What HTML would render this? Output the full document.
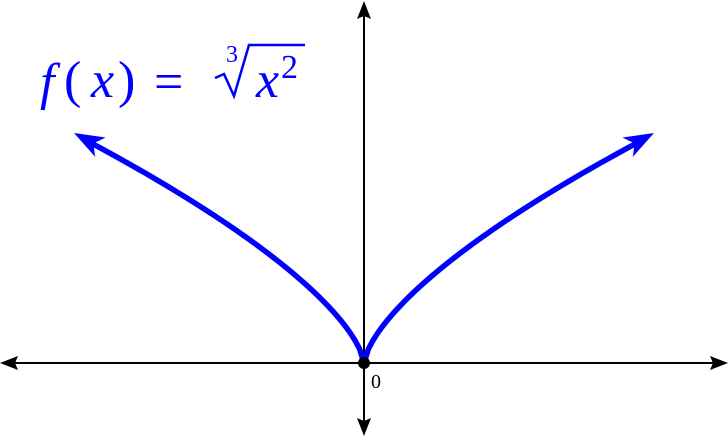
<!DOCTYPE html>
<html><head><meta charset="utf-8"><style>
html,body{margin:0;padding:0;background:#fff;}
svg{display:block;}
</style></head><body>
<svg width="728" height="437" viewBox="0 0 728 437" xmlns="http://www.w3.org/2000/svg">
<line x1="12" y1="363" x2="716" y2="363" stroke="#000" stroke-width="2"/>
<line x1="364" y1="12" x2="364" y2="425" stroke="#000" stroke-width="2"/>
<polygon points="728,363 710,356 713,363 710,370" fill="#000"/>
<polygon points="0,363 18,356 15,363 18,370" fill="#000"/>
<polygon points="364,1 357,19 364,16 371,19" fill="#000"/>
<polygon points="364,436 357,418 364,421 371,418" fill="#000"/>
<path id="c" d="" fill="none" stroke="#0000ff" stroke-width="5.5" stroke-linejoin="round"/>
<polygon points="654,133 622.4,137.5 634.6,143.4 632.8,156.9" fill="#0000ff"/>
<polygon points="74,133 105.6,137.5 93.4,143.4 95.2,156.9" fill="#0000ff"/>
<circle cx="364" cy="363" r="6" fill="#000"/>
<text x="371" y="388" font-family="Liberation Serif, serif" font-size="20">0</text>
<g fill="#0000ff" font-family="Liberation Serif, serif" font-size="52">
<text x="40" y="99" font-style="italic">f</text>
<text x="64" y="97">(</text>
<text x="91" y="97" font-style="italic">x</text>
<text x="118" y="97">)</text>
<text x="154" y="99">=</text>
<text x="226" y="62" font-size="24">3</text>
<path d="M215,78 L224,74 L234,96 L249,45 L305,45" fill="none" stroke="#0000ff" stroke-width="2.5"/>
<text x="256" y="97" font-style="italic">x</text>
<text x="281" y="78" font-size="34">2</text>
</g>
<script>
var a=5.23,d="";
for(var i=0;i<=120;i++){var x=-272+544*i/120;var y=363-a*Math.pow(Math.abs(x),2/3);d+=(i?"L":"M")+(364+x).toFixed(2)+","+y.toFixed(2);}
document.getElementById("c").setAttribute("d",d);
</script>
</svg>
</body></html>
